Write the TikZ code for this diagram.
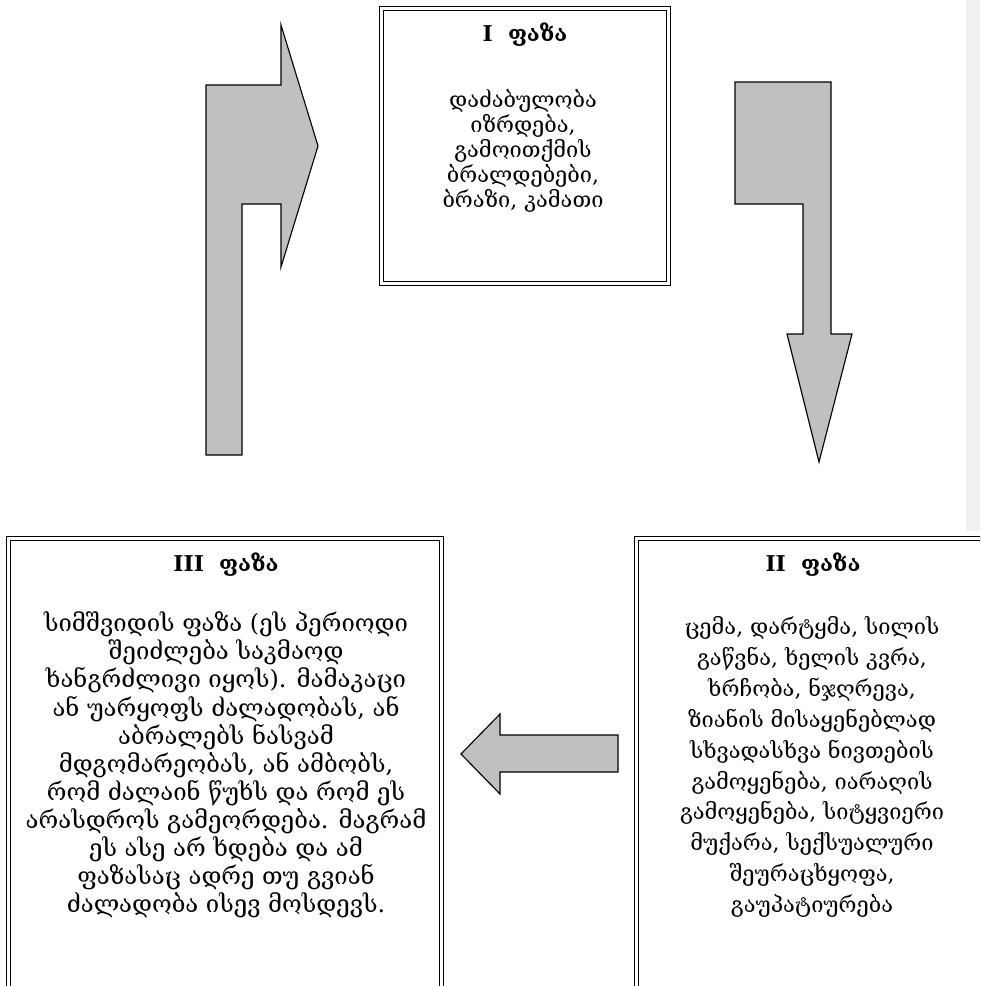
\documentclass[tikz,border=0pt]{standalone}
\usepackage{fontspec}
\setmainfont{DejaVu Serif}
\definecolor{arrowgray}{HTML}{C0C0C0}
\definecolor{stripgray}{HTML}{F0F0F0}
\tikzset{
  phasebox/.style={draw, double, line width=1.2pt, double distance=1.6pt},
  blockarrow/.style={draw, fill=arrowgray, line width=0.8pt, line join=miter},
  phasetitle/.style={font=\bfseries\fontsize{15.5}{18}\selectfont},
  phasetext/.style={align=center, font=\fontsize{15.5}{17.7}\selectfont},
}

\begin{document}
\begin{tikzpicture}[x=0.025cm,y=-0.025cm]
\useasboundingbox (0,0) rectangle (980,986);
\clip (0,0) rectangle (980,986);
\fill[stripgray] (966,0) rectangle (980,531);

\draw[phasebox] (381.5,8.5) rectangle (668.5,283.5);
\draw[phasebox] (636.5,538.5) rectangle (1000,1000);
\draw[phasebox] (8.5,538.5) rectangle (441.5,1000);

\node[phasetitle] (title1) at (525,35) {I~ ფაზა};
\node[phasetext] (text1) at (523,151) {დაძაბულობა\\იზრდება,\\გამოითქმის\\ბრალდებები,\\ბრაზი, კამათი};

\node[phasetitle] (title2) at (813,565) {II~ ფაზა};
\node[phasetext, font=\fontsize{15.5}{22}\selectfont] (text2) at (812,767) {ცემა, დარტყმა, სილის\\გაწვნა, ხელის კვრა,\\ხრჩობა, ნჯღრევა,\\ზიანის მისაყენებლად\\სხვადასხვა ნივთების\\გამოყენება, იარაღის\\გამოყენება, სიტყვიერი\\მუქარა, სექსუალური\\შეურაცხყოფა,\\გაუპატიურება};

\node[phasetitle] (title3) at (226,565) {III~ ფაზა};
\node[phasetext, font=\fontsize{17}{20}\selectfont] (text3) at (226,765) {სიმშვიდის ფაზა (ეს პერიოდი\\შეიძლება საკმაოდ\\ხანგრძლივი იყოს). მამაკაცი\\ან უარყოფს ძალადობას, ან\\აბრალებს ნასვამ\\მდგომარეობას, ან ამბობს,\\რომ ძალაინ წუხს და რომ ეს\\არასდროს გამეორდება. მაგრამ\\ეს ასე არ ხდება და ამ\\ფაზასაც ადრე თუ გვიან\\ძალადობა ისევ მოსდევს.};

\draw[blockarrow] (206,455) -- (206,85) -- (281,85) -- (281,25) -- (318,146)
  -- (281,267) -- (281,204) -- (242,204) -- (242,455) -- cycle;
\draw[blockarrow] (735,82) -- (831,82) -- (831,334) -- (852,334) -- (819,462)
  -- (787,334) -- (803,334) -- (803,204) -- (735,204) -- cycle;
\draw[blockarrow] (618,735) -- (500,735) -- (500,714) -- (461,754)
  -- (500,794) -- (500,772) -- (618,772) -- cycle;

\end{tikzpicture}
\end{document}
